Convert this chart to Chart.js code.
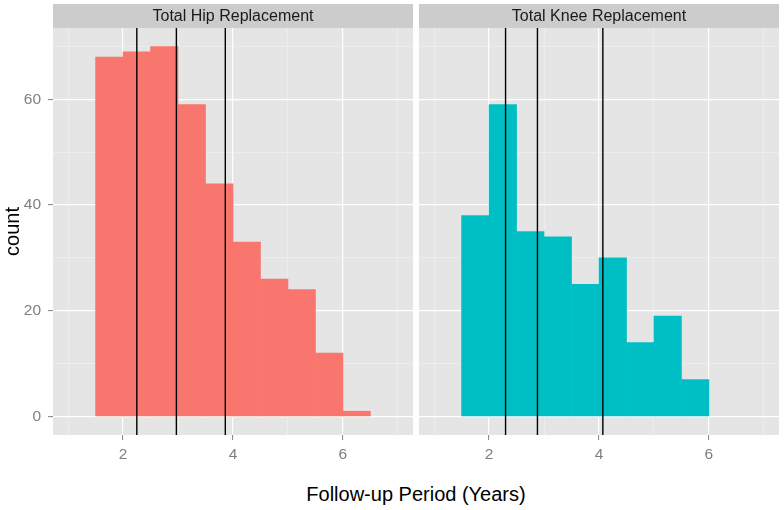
<!DOCTYPE html>
<html>
<head>
<meta charset="utf-8">
<script src="https://cdn.jsdelivr.net/npm/chart.js@4.4.1/dist/chart.umd.min.js"></script>
<style>
  html, body { margin: 0; padding: 0; background: #ffffff; }
  #wrap { position: relative; width: 784px; height: 510px; overflow: hidden; font-family: "Liberation Sans", Arial, sans-serif; }
  #c1 { position: absolute; left: 0; top: 0; }
  #c2 { position: absolute; left: 416px; top: 0; }
  #xtitle { position: absolute; left: 0; width: 832px; top: 483px; text-align: center; font-size: 20px; line-height: 22px; color: #000; }
</style>
</head>
<body>
<div id="wrap">
  <canvas id="c1" width="416" height="470"></canvas>
  <canvas id="c2" width="368" height="470"></canvas>
  <div id="xtitle">Follow-up Period (Years)</div>
</div>
<script>
// ---- data ----
const panelTitles = ["Total Hip Replacement", "Total Knee Replacement"];
const binCenters = [1.75, 2.25, 2.75, 3.25, 3.75, 4.25, 4.75, 5.25, 5.75, 6.25];
const hipCounts  = [68, 69, 70, 59, 44, 33, 26, 24, 12, 1];
const kneeCounts = [38, 59, 35, 34, 25, 30, 14, 19, 7, 0];
const hipLines  = [2.25, 2.97, 3.86];
const kneeLines = [2.30, 2.88, 4.07];
const xTickValues = [1, 2, 3, 4, 5, 6, 7];
const xTickLabels = [2, 4, 6];
const yTickValues = [0, 10, 20, 30, 40, 50, 60, 70];
const yTickLabels = [0, 20, 40, 60];
const xRange = [0.725, 7.275];
const yRange = [-3.5, 73.5];
const yTitle = "count";
const hipColor = "#F8766D";
const kneeColor = "#00BFC4";

Chart.defaults.font.family = '"Liberation Sans", Arial, sans-serif';

const panelPlugin = {
  id: 'panel',
  beforeDraw(chart, args, opts) {
    const { ctx, chartArea: a } = chart;
    ctx.save();
    ctx.fillStyle = '#E5E5E5';
    ctx.fillRect(a.left, a.top, a.right - a.left, a.bottom - a.top);
    // facet strip
    ctx.fillStyle = '#CCCCCC';
    ctx.fillRect(a.left, 4, a.right - a.left, a.top - 4);
    ctx.fillStyle = '#1A1A1A';
    ctx.font = '16px "Liberation Sans", Arial, sans-serif';
    ctx.textAlign = 'center';
    ctx.textBaseline = 'middle';
    ctx.fillText(opts.title, (a.left + a.right) / 2, (4 + a.top) / 2 + 1);
    ctx.restore();
  }
};

function makeConfig(counts, color, lines, title, isLeft) {
  const bars = [];
  binCenters.forEach((c, i) => { if (counts[i] > 0) bars.push({ x: c, y: counts[i] }); });
  const datasets = [{
    type: 'bar',
    data: bars,
    backgroundColor: color,
    borderWidth: 0,
    barPercentage: 1,
    categoryPercentage: 1,
    grouped: false,
    order: 2
  }];
  lines.forEach(v => {
    datasets.push({
      type: 'line',
      data: [{ x: v, y: yRange[0] }, { x: v, y: yRange[1] }],
      borderColor: '#000000',
      borderWidth: 1.4,
      pointRadius: 0,
      fill: false,
      order: 1
    });
  });
  return {
    type: 'bar',
    data: { datasets },
    options: {
      responsive: false,
      animation: false,
      events: [],
      layout: { padding: { top: 28, right: isLeft ? 3 : 5, left: isLeft ? 0 : 3, bottom: 0 } },
      plugins: { legend: { display: false }, tooltip: { enabled: false }, panel: { title } },
      scales: {
        x: {
          type: 'linear',
          min: xRange[0], max: xRange[1],
          offset: false,
          afterBuildTicks: s => { s.ticks = xTickValues.map(v => ({ value: v })); },
          afterFit: s => { s.height = 35; },
          border: { display: false },
          grid: {
            offset: false,
            color: c => xTickLabels.includes(c.tick.value) ? '#FFFFFF' : '#F2F2F2',
            lineWidth: c => xTickLabels.includes(c.tick.value) ? 1.2 : 0.6,
            drawTicks: true,
            tickLength: 5,
            tickWidth: 1,
            tickColor: c => xTickLabels.includes(c.tick.value) ? '#7F7F7F' : 'rgba(0,0,0,0)'
          },
          ticks: {
            autoSkip: false, maxRotation: 0, padding: 5,
            color: '#7F7F7F', font: { size: 15.5 },
            callback: v => xTickLabels.includes(v) ? String(v) : ''
          }
        },
        y: {
          type: 'linear',
          min: yRange[0], max: yRange[1],
          afterBuildTicks: s => { s.ticks = yTickValues.map(v => ({ value: v })); },
          afterFit: s => { s.width = isLeft ? 53 : 0; },
          border: { display: false },
          title: isLeft ? { display: true, text: yTitle, color: '#000', font: { size: 20 }, padding: { top: 1, bottom: 0 } } : { display: false },
          grid: {
            color: c => yTickLabels.includes(c.tick.value) ? '#FFFFFF' : '#F2F2F2',
            lineWidth: c => yTickLabels.includes(c.tick.value) ? 1.2 : 0.6,
            drawTicks: isLeft,
            tickLength: 5,
            tickWidth: 1,
            tickColor: c => yTickLabels.includes(c.tick.value) ? '#7F7F7F' : 'rgba(0,0,0,0)'
          },
          ticks: {
            display: isLeft,
            autoSkip: false, padding: 7,
            color: '#7F7F7F', font: { size: 15.5 },
            callback: v => yTickLabels.includes(v) ? String(v) : ''
          }
        }
      }
    },
    plugins: [panelPlugin]
  };
}

new Chart(document.getElementById('c1'), makeConfig(hipCounts, hipColor, hipLines, panelTitles[0], true));
new Chart(document.getElementById('c2'), makeConfig(kneeCounts, kneeColor, kneeLines, panelTitles[1], false));
</script>
</body>
</html>
